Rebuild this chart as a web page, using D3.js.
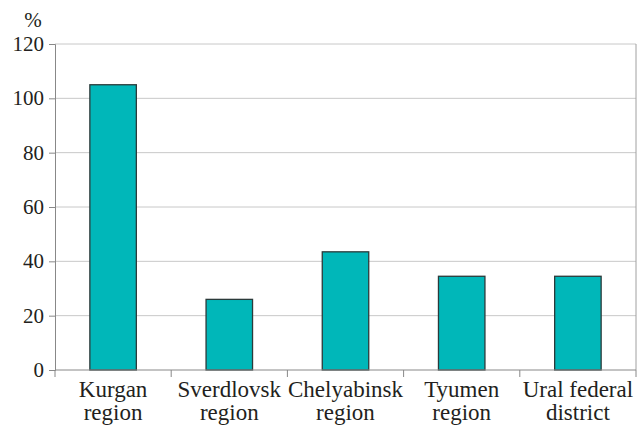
<!DOCTYPE html>
<html>
<head>
<meta charset="utf-8">
<script src="https://cdn.jsdelivr.net/npm/d3@7"></script>
<style>
  body { margin: 0; background: #fff; }
</style>
</head>
<body>
<div id="chart"></div>
<script>
var categories = [["Kurgan", "region"], ["Sverdlovsk", "region"], ["Chelyabinsk", "region"], ["Tyumen", "region"], ["Ural federal", "district"]];
var values = [105, 26, 43.5, 34.5, 34.5];
var yTicks = [0, 20, 40, 60, 80, 100, 120];

var svgWidth = 638;
var svgHeight = 425;
var margin = { top: 44, right: 2, bottom: 55, left: 55 };
var width = svgWidth - margin.left - margin.right;
var height = svgHeight - margin.top - margin.bottom;
var textColor = "#231f20";

var svg = d3.select("#chart")
  .append("svg")
  .attr("width", svgWidth)
  .attr("height", svgHeight)
  .attr("font-family", "Liberation Serif");

var chartGroup = svg.append("g")
  .attr("transform", `translate(${margin.left}, ${margin.top})`);

var xScale = d3.scaleBand()
  .domain(d3.range(categories.length))
  .range([0, width])
  .paddingInner(0.6)
  .paddingOuter(0.3);

var bandStep = width / categories.length;

var yScale = d3.scaleLinear()
  .domain([0, 120])
  .range([height, 0]);

// gridlines
chartGroup.selectAll(".grid")
  .data(yTicks.slice(1))
  .enter()
  .append("line")
  .attr("x1", 0)
  .attr("x2", width)
  .attr("y1", d => yScale(d))
  .attr("y2", d => yScale(d))
  .attr("stroke", "#c8c8c8");

// right border
chartGroup.append("line")
  .attr("x1", width).attr("x2", width)
  .attr("y1", 0).attr("y2", height)
  .attr("stroke", "#a0a0a0");

// bars
chartGroup.selectAll("rect")
  .data(values)
  .enter()
  .append("rect")
  .attr("x", (d, i) => xScale(i))
  .attr("width", xScale.bandwidth())
  .attr("y", d => yScale(d))
  .attr("height", d => height - yScale(d))
  .attr("fill", "#00b7b9")
  .attr("stroke", "#2b3a3a")
  .attr("stroke-width", 1.3);

// y axis: lines by d3, labels drawn below as plain text
var leftAxis = d3.axisLeft(yScale)
  .tickValues(yTicks)
  .tickSize(6)
  .tickFormat("");

var yAxis = chartGroup.append("g").call(leftAxis);
yAxis.select(".domain").attr("stroke", "#888");
yAxis.selectAll(".tick line").attr("stroke", "#888");

chartGroup.selectAll(".ylabel")
  .data(yTicks)
  .enter()
  .append("text")
  .attr("x", -11)
  .attr("y", d => yScale(d) + 7)
  .attr("text-anchor", "end")
  .attr("font-family", "Liberation Serif")
  .attr("font-size", 21)
  .attr("fill", textColor)
  .text(d => d);

// x axis baseline and tick marks between categories
chartGroup.append("line")
  .attr("x1", 0).attr("x2", width)
  .attr("y1", height).attr("y2", height)
  .attr("stroke", "#888");

chartGroup.selectAll(".xtick")
  .data(d3.range(categories.length + 1))
  .enter()
  .append("line")
  .attr("x1", d => d * bandStep)
  .attr("x2", d => d * bandStep)
  .attr("y1", height)
  .attr("y2", height + 7)
  .attr("stroke", "#888");

// category labels, one text per line
categories.forEach(function(lines, i) {
  lines.forEach(function(line, j) {
    chartGroup.append("text")
      .attr("x", xScale(i) + xScale.bandwidth() / 2)
      .attr("y", height + 26.5 + j * 23)
      .attr("text-anchor", "middle")
      .attr("font-family", "Liberation Serif")
      .attr("font-size", 23)
      .attr("fill", textColor)
      .text(line);
  });
});

// unit label
svg.append("text")
  .attr("x", 33)
  .attr("y", 27)
  .attr("text-anchor", "middle")
  .attr("font-family", "Liberation Serif")
  .attr("font-size", 21)
  .attr("fill", textColor)
  .text("%");
</script>
</body>
</html>
